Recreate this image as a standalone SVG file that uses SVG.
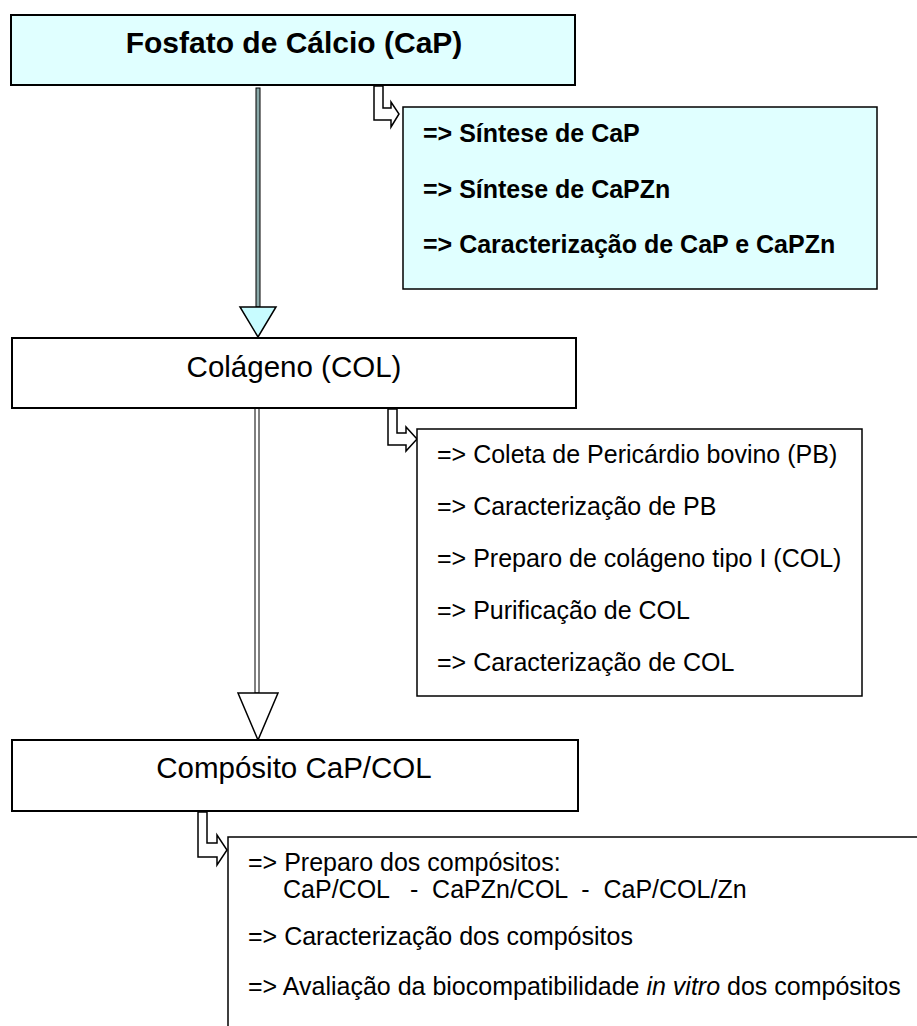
<svg xmlns="http://www.w3.org/2000/svg" width="917" height="1026" viewBox="0 0 917 1026">
<style>
.box{stroke:#000;stroke-width:2;fill:#fff}
.list{stroke:#000;stroke-width:1.5;fill:#fff}
.cyan{fill:#e0ffff}
.arr{stroke:#000;stroke-width:1.5;fill:#fff;stroke-linejoin:miter}
text{font-family:"Liberation Sans",Arial,Helvetica,sans-serif;fill:#000}
.t30b{font-size:30px;font-weight:bold}
.t30{font-size:29.5px}
.b25{font-size:25px;font-weight:bold}
.r25{font-size:25px}
</style>
<rect width="917" height="1026" fill="#fff"/>
<g id="connectors">
  <rect x="256" y="88" width="4" height="219" fill="#8aa9a9" stroke="#000" stroke-width="1"/>
  <polygon class="arr" points="240,307 276,307 258,337" style="fill:#c8fcff"/>
  <rect x="255" y="406" width="4" height="287" fill="#fff" stroke="#000" stroke-width="1"/>
  <polygon class="arr" points="238,693 278,693 258,740"/>
  <polygon class="arr" points="374,86 383,86 383,108 391,108 391,102 399,114 391,127 391,120 374,120"/>
  <polygon class="arr" points="388,409 397,409 397,433 406,433 406,427 417,439 406,451 406,445 388,445"/>
  <polygon class="arr" points="198,812 207,812 207,843 217,843 217,835 227,850 217,865 217,857 198,857"/>
</g>
<g id="node-cap">
  <rect class="box cyan" x="11" y="15" width="564" height="70"/>
  <text class="t30b" x="294" y="53" text-anchor="middle">Fosfato de Cálcio (CaP)</text>
</g>
<g id="node-cap-list">
  <rect class="list cyan" x="403" y="107" width="474" height="182"/>
  <text class="b25" x="423" y="142">=&gt; Síntese de CaP</text>
  <text class="b25" x="423" y="198">=&gt; Síntese de CaPZn</text>
  <text class="b25" x="423" y="253">=&gt; Caracterização de CaP e CaPZn</text>
</g>
<g id="node-col">
  <rect class="box" x="12" y="338" width="564" height="70"/>
  <text class="t30" x="294" y="377" text-anchor="middle">Colágeno (COL)</text>
</g>
<g id="node-col-list">
  <rect class="list" x="417" y="429" width="445" height="267"/>
  <text class="r25" x="437" y="463">=&gt; Coleta de Pericárdio bovino (PB)</text>
  <text class="r25" x="437" y="515">=&gt; Caracterização de PB</text>
  <text class="r25" x="437" y="567">=&gt; Preparo de colágeno tipo I (COL)</text>
  <text class="r25" x="437" y="619">=&gt; Purificação de COL</text>
  <text class="r25" x="437" y="671">=&gt; Caracterização de COL</text>
</g>
<g id="node-composito">
  <rect class="box" x="12" y="740" width="566" height="71"/>
  <text class="t30" x="294" y="778" text-anchor="middle">Compósito CaP/COL</text>
</g>
<g id="node-composito-list">
  <path d="M228,1030 V837 H918" fill="none" stroke="#000" stroke-width="1.5"/>
  <text class="r25" x="248" y="871">=&gt; Preparo dos compósitos:</text>
  <text class="r25" x="283" y="898" xml:space="preserve">CaP/COL   -  CaPZn/COL  -  CaP/COL/Zn</text>
  <text class="r25" x="248" y="945">=&gt; Caracterização dos compósitos</text>
  <text class="r25" x="248" y="995">=&gt; Avaliação da biocompatibilidade <tspan font-style="italic">in vitro</tspan> dos compósitos</text>
</g>
</svg>
